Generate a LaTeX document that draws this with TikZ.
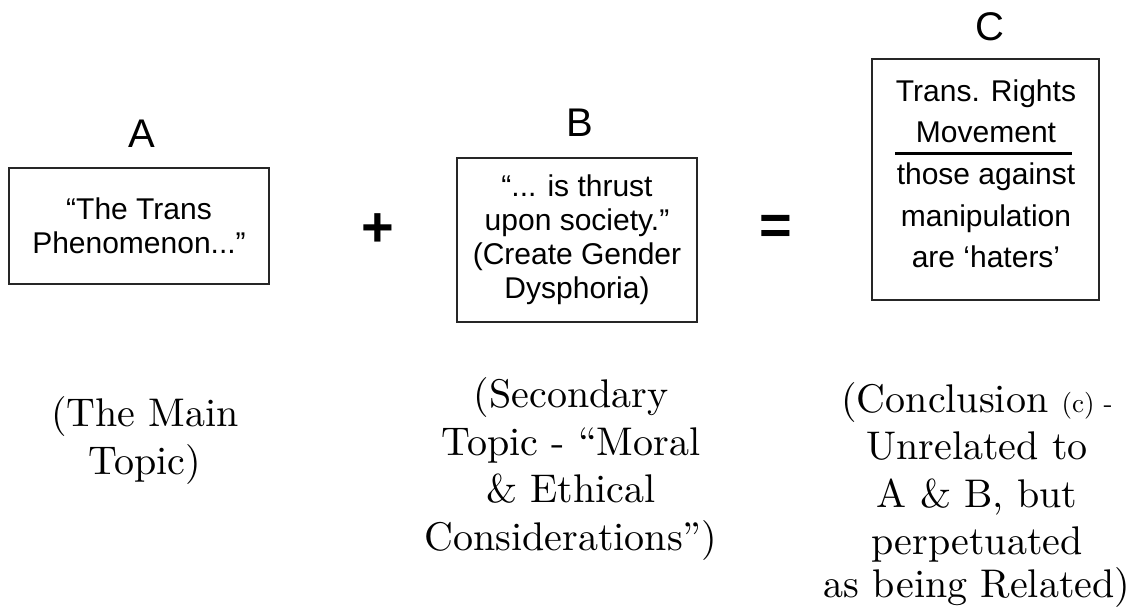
\documentclass[tikz,border=0pt]{standalone}
\usepackage{fontspec}
\newfontfamily\arialfont{Liberation Sans}
\newfontfamily\serifwide{lmroman10-regular.otf}
\begin{document}
\begin{tikzpicture}[x=1pt,y=-1pt,
  boxshape/.style={draw=black!85, line width=2.2pt, inner sep=0pt},
  sanstext/.style={font=\arialfont\fontsize{30}{34}\selectfont, align=center, inner sep=0pt},
  sanstextC/.style={font=\arialfont\fontsize{30}{41.5}\selectfont, align=center, inner sep=0pt},
  letterlabel/.style={font=\arialfont\fontsize{40}{44}\selectfont, inner sep=0pt},
  opsign/.style={font=\arialfont\bfseries\fontsize{56}{60}\selectfont, inner sep=0pt},
  serifnote/.style={font=\serifwide\fontsize{40}{47.5}\selectfont, align=center, inner sep=0pt, anchor=base}
]
\useasboundingbox (0,0) rectangle (1143,612);

% letters
\node[letterlabel] (labA) at (142,134) {A};
\node[letterlabel] (labB) at (580,122.5) {B};
\node[letterlabel] (labC) at (990,27) {C};

% boxes
\node[boxshape, sanstext, minimum width=260pt, minimum height=116pt] (boxA) at (139,226)
  {“The Trans\\Phenomenon...”};
\node[boxshape, sanstext, minimum width=240pt, minimum height=164pt] (boxB) at (577,240)
  {“... is thrust\\upon society.”\\(Create Gender\\Dysphoria)};
\node[boxshape, minimum width=227pt, minimum height=241pt] (boxC) at (985.5,179.5) {};
\node[sanstextC, anchor=base] (ctop) at (986,143) {Trans. Rights\\Movement};
\node[sanstextC, anchor=base] (cbot) at (986,268) {those against\\manipulation\\are ‘haters’};
\coordinate (ruleL) at (895,154);
\coordinate (ruleR) at (1072,154);
\draw[line width=3pt] (ruleL) -- (ruleR);

% operators
\node[opsign] (plus) at (378,230) {+};
\node[opsign] (equals) at (775.5,229.5) {=};

% notes
\node[serifnote] (noteA) at (145,474) {(The Main\\Topic)};
\node[serifnote] (noteB) at (571,550) {(Secondary\\Topic - “Moral\\\& Ethical\\Considerations”)};
\node[serifnote] (noteC) at (977,597) {(Conclusion {\fontsize{27}{30}\selectfont(c) -}\\Unrelated to\\A \& B, but\\perpetuated\\[-5pt]as being Related)};
\end{tikzpicture}
\end{document}
